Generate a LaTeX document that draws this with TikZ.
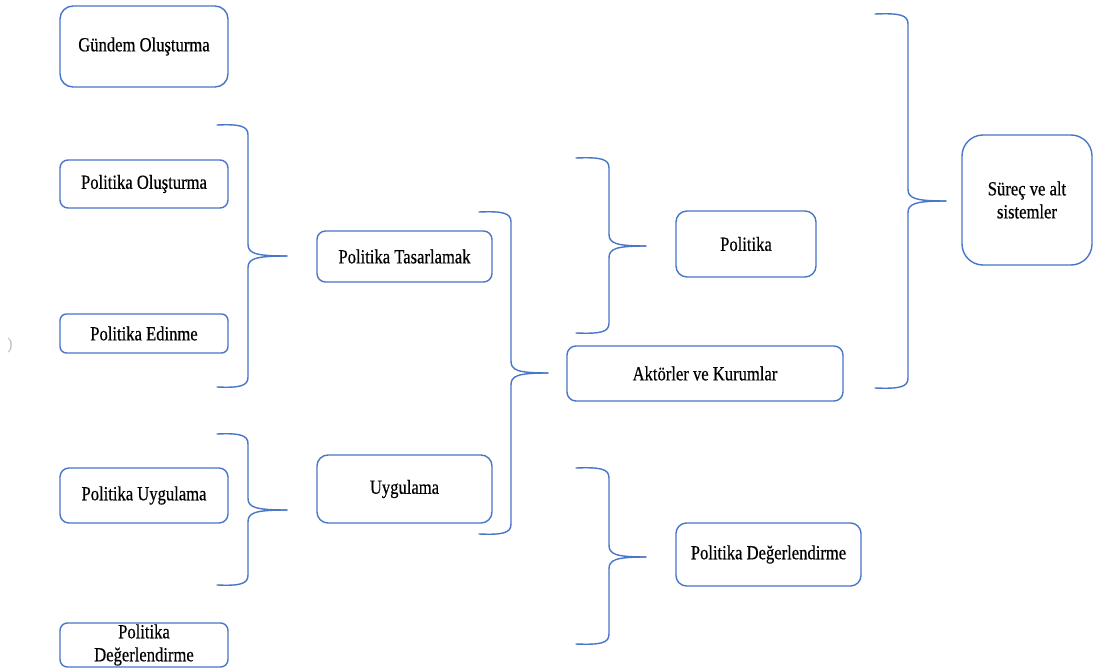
\documentclass[tikz,border=0pt]{standalone}
\usepackage{fontspec}
\setmainfont{Liberation Serif}[FakeStretch=0.83, FakeBold=0.4]
\definecolor{lineblue}{RGB}{72,118,200}
\tikzset{
  stagebox/.style={draw=lineblue, line width=1.4pt, rounded corners=#1, fill=white,
    align=center, inner sep=0pt, font=\fontsize{20}{23}\selectfont},
  stagebox/.default=8pt,
  bracket/.style={draw=lineblue, line width=1.4pt, line cap=round},
}
% curly bracket opening to the left: name, left x, spine x, tip x, top y, tip y, bottom y
\newcommand\groupbrace[7]{%
  \coordinate (#1-top) at (#2,#5);
  \coordinate (#1-tip) at (#4,#6);
  \coordinate (#1-bot) at (#2,#7);
  \draw[bracket] (#1-top) .. controls ({#3-8},{#5-1}) and (#3,{#5+1}) .. (#3,{#5+10})
    -- (#3,{#6-12}) .. controls (#3,{#6-3}) and ({#3+6},#6) .. (#1-tip);
  \draw[bracket] (#1-tip) .. controls ({#3+6},#6) and (#3,{#6+3}) .. (#3,{#6+12})
    -- (#3,{#7-10}) .. controls (#3,{#7-1}) and ({#3-8},{#7+1}) .. (#1-bot);
}
\begin{document}
\begin{tikzpicture}[x=1pt, y=-1pt]
\useasboundingbox (0,0) rectangle (1096,671);
\fill[white] (0,0) rectangle (1096,671);

% left column
\node[stagebox=13pt, minimum width=168pt, minimum height=81pt] (gundem) at (144,46.5) {Gündem Oluşturma};
\node[stagebox=8pt, minimum width=168pt, minimum height=48pt] (polol) at (144,184) {Politika Oluşturma};
\node[stagebox=6.5pt, minimum width=168pt, minimum height=39pt] (edinme) at (144,333.5) {Politika Edinme};
\node[stagebox=9pt, minimum width=168pt, minimum height=55pt] (puyg) at (144,495.5) {Politika Uygulama};
\node[stagebox=7.5pt, minimum width=168pt, minimum height=44pt] (pdegl) at (144,645) {Politika\\Değerlendirme};

% middle column
\node[stagebox=8.5pt, minimum width=175pt, minimum height=51pt] (tasar) at (404.5,256.5) {Politika Tasarlamak};
\node[stagebox=11pt, minimum width=175pt, minimum height=68pt] (uyg) at (404.5,489) {Uygulama};

% right columns
\node[stagebox=11pt, minimum width=140pt, minimum height=66pt] (pol) at (746,244) {Politika};
\node[stagebox=9pt, minimum width=276pt, minimum height=55pt] (aktor) at (705,373.5) {Aktörler ve Kurumlar};
\node[stagebox=10.5pt, minimum width=185pt, minimum height=63pt] (pdegr) at (768.5,554.5) {Politika Değerlendirme};
\node[stagebox=21pt, minimum width=130pt, minimum height=130pt] (surec) at (1027,200) {Süreç ve alt\\sistemler};

% grouping brackets
\groupbrace{b1}{217}{248}{287}{125}{256}{387}
\groupbrace{b2}{217}{248}{287}{434}{510}{585}
\groupbrace{b3}{479}{511}{548}{212}{373}{534}
\groupbrace{b4}{576}{609}{646}{158}{246}{333}
\groupbrace{b5}{875}{908}{946}{14}{201}{388}
\groupbrace{b6}{576}{609}{646}{468}{557}{644}

% stray mark at the left margin
\node[text=black!25, font=\fontsize{16}{16}\selectfont, inner sep=0pt] (mark) at (10,345) {)};
\end{tikzpicture}
\end{document}
